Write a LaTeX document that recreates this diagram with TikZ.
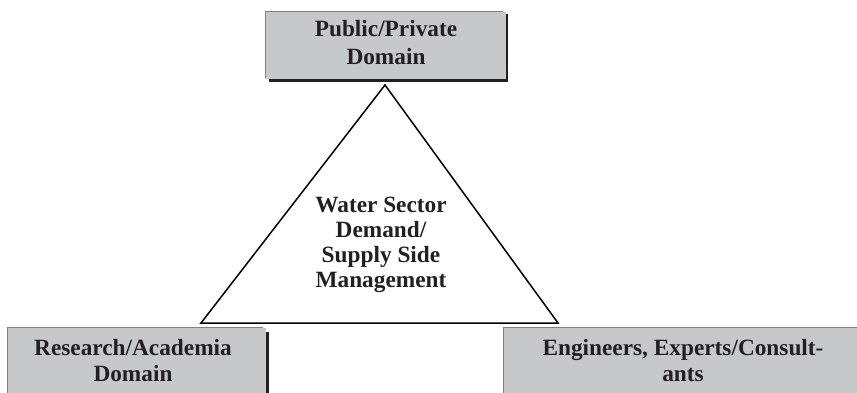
\documentclass[tikz,border=0pt]{standalone}
\usepackage{fontspec}
\setmainfont{Liberation Serif}
\definecolor{boxfill}{HTML}{C7C8CA}
\definecolor{boxedge}{HTML}{808080}
\definecolor{shadowc}{HTML}{231F20}
\definecolor{inkc}{HTML}{231F20}
\tikzset{
  lbl/.style={align=center, text=inkc, font=\fontsize{23.3}{28}\selectfont\bfseries, inner sep=0pt},
  lbltri/.style={lbl, font=\fontsize{23.3}{25}\selectfont\bfseries},
  lblbot/.style={lbl, font=\fontsize{23.3}{26}\selectfont\bfseries},
  edgeline/.style={draw=boxedge, line width=1.5pt},
  shadowline/.style={draw=shadowc, line width=2.5pt},
  triline/.style={draw=black, line width=1.5pt, line join=miter}
}
\begin{document}
\begin{tikzpicture}[x=1pt,y=-1pt]
\useasboundingbox (0,0) rectangle (857,393);
% top box
\fill[boxfill] (265,12) rectangle (506,79);
\draw[shadowline] (507,14) -- (507,80.5) -- (269,80.5);
\draw[edgeline] (265,11.5) -- (503,11.5);
\draw[edgeline] (265.5,11) -- (265.5,78);
\node[lbl] (pub) at (386,43) {Public/Private\\Domain};
% bottom left box
\fill[boxfill] (7,328) rectangle (266,393);
\draw[shadowline] (267.5,332) -- (267.5,393);
\draw[edgeline] (7,327.5) -- (263,327.5);
\draw[edgeline] (7.5,327) -- (7.5,393);
\node[lblbot] (res) at (133,361) {Research/Academia\\Domain};
% bottom right box
\fill[boxfill] (503,328) rectangle (857,393);
\draw[edgeline] (503,327.5) -- (857,327.5);
\draw[edgeline] (503.5,327) -- (503.5,393);
\node[lblbot] (eng) at (683,361) {Engineers, Experts/Consult-\\ants};
% triangle
\coordinate (apex) at (385,85);
\coordinate (bl) at (201,323);
\coordinate (br) at (558,323);
\draw[triline] (apex) -- (bl) -- (br) -- cycle;
\node[lbltri] (water) at (381,245) {Water Sector\\Demand/\\Supply Side\\Management};
\end{tikzpicture}
\end{document}
